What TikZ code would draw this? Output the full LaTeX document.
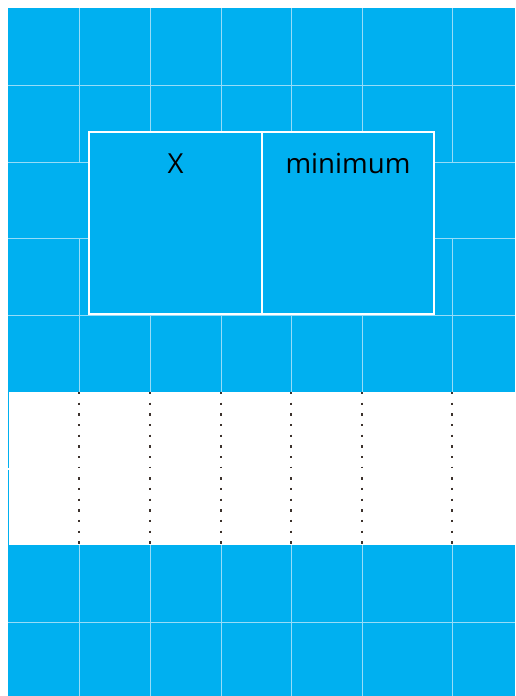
\documentclass[tikz,border=0pt]{standalone}
\usepackage{fontspec}
\setmainfont{Open Sans}
\definecolor{cyanblue}{RGB}{0,176,240}
\definecolor{gridc}{RGB}{150,220,248}
\definecolor{dotc}{RGB}{60,50,45}
\tikzset{
  gridline/.style={draw=gridc, line width=1pt},
  dotline/.style={draw=dotc, line width=2.4pt, dash pattern=on 2.4pt off 8.27pt},
  cellbox/.style={draw=white, line width=2.5pt, fill=cyanblue, inner sep=0pt, minimum height=182pt},
  celltext/.style={anchor=base, text=black, font=\fontsize{27.6}{30}\selectfont}
}
\begin{document}
\begin{tikzpicture}[x=1pt,y=-1pt]
\useasboundingbox (0,0) rectangle (515,696);
\fill[white] (0,0) rectangle (515,696);
% blue regions
\fill[cyanblue] (8,8) rectangle (515,392);
\fill[cyanblue] (8,545) rectangle (515,696);
% horizontal grid lines
\foreach \y in {85,315,622} \draw[gridline] (8,\y) -- (515,\y);
\foreach \y in {162,238} {
  \draw[gridline] (8,\y) -- (89,\y);
  \draw[gridline] (434,\y) -- (515,\y);
}
% vertical grid lines
\foreach \x in {79,452} {
  \draw[gridline] (\x,8) -- (\x,162);
  \draw[gridline] (\x,238) -- (\x,392);
  \draw[gridline] (\x,545) -- (\x,696);
}
\foreach \x in {150,221,291,362} {
  \draw[gridline] (\x,8) -- (\x,392);
  \draw[gridline] (\x,545) -- (\x,696);
}
% white band: left border and dotted lines
\draw[cyanblue, line width=1pt] (8.5,392) -- (8.5,468);
\draw[cyanblue, line width=1pt] (8.5,470) -- (8.5,545);
\foreach \x in {79,150,221,291,362,452} {
  \draw[dotline] (\x,392) -- (\x,468);
  \draw[dotline] (\x,477.2) -- (\x,545);
}
% the two-cell box
\node[cellbox, minimum width=173pt] (xcell) at (175.5,223) {};
\node[cellbox, minimum width=172pt] (mincell) at (348,223) {};
\node[celltext] (xlabel) at (175.5,173) {X};
\node[celltext] (minlabel) at (348,173) {minimum};
\end{tikzpicture}
\end{document}
